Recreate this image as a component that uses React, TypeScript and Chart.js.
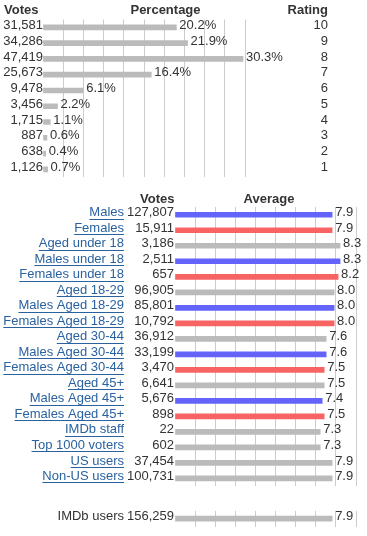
import React, { useEffect, useRef } from 'react';
import { Chart, registerables } from 'chart.js';

Chart.register(...registerables);

// ---------- data ----------
const ratingLabels = ['10', '9', '8', '7', '6', '5', '4', '3', '2', '1'];
const ratingVotes = [31581, 34286, 47419, 25673, 9478, 3456, 1715, 887, 638, 1126];
const ratingPercent = [20.2, 21.9, 30.3, 16.4, 6.1, 2.2, 1.1, 0.6, 0.4, 0.7];
const topHeaders = ['Votes', 'Percentage', 'Rating'];

const groupLabels = [
  'Males',
  'Females',
  'Aged under 18',
  'Males under 18',
  'Females under 18',
  'Aged 18-29',
  'Males Aged 18-29',
  'Females Aged 18-29',
  'Aged 30-44',
  'Males Aged 30-44',
  'Females Aged 30-44',
  'Aged 45+',
  'Males Aged 45+',
  'Females Aged 45+',
  'IMDb staff',
  'Top 1000 voters',
  'US users',
  'Non-US users',
];
const groupVotes = [127807, 15911, 3186, 2511, 657, 96905, 85801, 10792, 36912, 33199, 3470, 6641, 5676, 898, 22, 602, 37454, 100731];
const groupAverage = [7.9, 7.9, 8.3, 8.3, 8.2, 8.0, 8.0, 8.0, 7.6, 7.6, 7.5, 7.5, 7.4, 7.5, 7.3, 7.3, 7.9, 7.9];
const groupKind = ['male', 'female', 'all', 'male', 'female', 'all', 'male', 'female', 'all', 'male', 'female', 'all', 'male', 'female', 'all', 'all', 'all', 'all'];
const bottomHeaders = ['Votes', 'Average'];

const overallLabels = ['IMDb users'];
const overallVotes = [156259];
const overallAverage = [7.9];

// ---------- style ----------
const FONT = '"Liberation Sans", Arial, Helvetica, sans-serif';
const TEXT = '#333333';
const LINK = '#2a62a0';
const GRID = '#cccccc';
const KIND_COLOR: Record<string, string> = { male: '#6464fa', female: '#f86464', all: '#bbbbbb' };

const fmt = (n: number) => n.toLocaleString('en-US');

Chart.defaults.font.family = FONT;
Chart.defaults.font.size = 13;
Chart.defaults.color = TEXT;

function valueLabelPlugin(format: (v: number) => string) {
  return {
    id: 'valueLabels',
    afterDatasetsDraw(chart: any) {
      const ctx = chart.ctx;
      const meta = chart.getDatasetMeta(0);
      const data = chart.data.datasets[0].data as number[];
      ctx.save();
      ctx.font = `13px ${FONT}`;
      ctx.fillStyle = TEXT;
      ctx.textAlign = 'left';
      ctx.textBaseline = 'middle';
      meta.data.forEach((el: any, i: number) => {
        ctx.fillText(format(data[i]), el.x + 3, el.y - 2);
      });
      ctx.restore();
    },
  };
}

function headerPlugin(items: { text: string; x: number; y: number; align: CanvasTextAlign }[]) {
  return {
    id: 'headers',
    afterDraw(chart: any) {
      const ctx = chart.ctx;
      ctx.save();
      ctx.font = `bold 13px ${FONT}`;
      ctx.fillStyle = TEXT;
      ctx.textBaseline = 'alphabetic';
      items.forEach((it) => {
        ctx.textAlign = it.align;
        ctx.fillText(it.text, it.x, it.y);
      });
      ctx.restore();
    },
  };
}

function underlinePlugin(scaleId: string, color: string) {
  return {
    id: 'underline',
    afterDraw(chart: any) {
      const s = chart.scales[scaleId];
      if (!s) return;
      const ctx = chart.ctx;
      const labels = s.getLabels();
      ctx.save();
      ctx.font = `13px ${FONT}`;
      ctx.fillStyle = color;
      labels.forEach((lab: string, i: number) => {
        const w = ctx.measureText(lab).width;
        const y = Math.round(s.getPixelForValue(i) - 2 + 6);
        ctx.fillRect(s.right - w, y, w, 1);
      });
      ctx.restore();
    },
  };
}

function xScale(max: number, parts: number) {
  return {
    type: 'linear',
    position: 'bottom',
    min: 0,
    max,
    afterBuildTicks: (s: any) => {
      s.ticks = Array.from({ length: parts + 1 }, (_, i) => ({ value: (i * max) / parts }));
    },
    afterFit: (s: any) => {
      s.height = 0;
    },
    grid: {
      color: (c: any) => (c.index === 0 ? 'rgba(0,0,0,0)' : GRID),
      drawTicks: false,
      lineWidth: 1,
    },
    border: { display: false },
    ticks: { display: false },
  };
}

function catScale(labels: string[], position: string, width: number, extra: any = {}) {
  return {
    type: 'category',
    position,
    labels,
    offset: true,
    grid: { display: false, drawTicks: false },
    border: { display: false },
    afterFit: (s: any) => {
      s.width = width;
    },
    ...extra,
    ticks: {
      padding: 0,
      labelOffset: -2,
      autoSkip: false,
      color: TEXT,
      font: { family: FONT, size: 13 },
      ...(extra.ticks || {}),
    },
  };
}

const baseOptions = {
  animation: false,
  responsive: false,
  maintainAspectRatio: false,
  indexAxis: 'y',
  events: [],
  plugins: { legend: { display: false }, tooltip: { enabled: false }, title: { display: false } },
};

export default function App() {
  const topRef = useRef<HTMLCanvasElement>(null);
  const midRef = useRef<HTMLCanvasElement>(null);
  const botRef = useRef<HTMLCanvasElement>(null);

  useEffect(() => {
    const charts: Chart[] = [];

    // ---- rating distribution ----
    charts.push(
      new Chart(topRef.current as HTMLCanvasElement, {
        type: 'bar',
        data: {
          labels: ratingLabels,
          datasets: [{ data: ratingPercent, backgroundColor: '#bbbbbb', barThickness: 5, yAxisID: 'y', xAxisID: 'x' }],
        },
        options: {
          ...baseOptions,
          layout: { padding: { left: 0, right: 39, top: 19.5, bottom: 5.5 } },
          scales: {
            x: xScale(30.6, 10),
            y: catScale(ratingVotes.map(fmt), 'left', 43),
            y2: catScale(ratingLabels, 'right', 83, { ticks: { crossAlign: 'far' } }),
          },
        } as any,
        plugins: [
          valueLabelPlugin((v) => `${v.toFixed(1)}%`),
          headerPlugin([
            { text: topHeaders[0], x: 4, y: 14, align: 'left' },
            { text: topHeaders[1], x: 165.5, y: 14, align: 'center' },
            { text: topHeaders[2], x: 328, y: 14, align: 'right' },
          ]),
        ],
      } as any)
    );

    // ---- demographic averages ----
    charts.push(
      new Chart(midRef.current as HTMLCanvasElement, {
        type: 'bar',
        data: {
          labels: groupLabels,
          datasets: [
            {
              data: groupAverage,
              backgroundColor: groupKind.map((k) => KIND_COLOR[k]),
              barThickness: 5,
              yAxisID: 'y',
              xAxisID: 'x',
            },
          ],
        },
        options: {
          ...baseOptions,
          layout: { padding: { left: 0, right: 11, top: 22, bottom: 0 } },
          scales: {
            x: xScale(9.1, 9),
            yn: catScale(groupLabels, 'left', 124, { weight: 2, ticks: { color: LINK } }),
            y: catScale(groupVotes.map(fmt), 'left', 51, { weight: 1, ticks: { padding: 1 } }),
          },
        } as any,
        plugins: [
          valueLabelPlugin((v) => v.toFixed(1)),
          underlinePlugin('yn', LINK),
          headerPlugin([
            { text: bottomHeaders[0], x: 174.5, y: 17.5, align: 'right' },
            { text: bottomHeaders[1], x: 269, y: 17.5, align: 'center' },
          ]),
        ],
      } as any)
    );

    // ---- overall ----
    charts.push(
      new Chart(botRef.current as HTMLCanvasElement, {
        type: 'bar',
        data: {
          labels: overallLabels,
          datasets: [{ data: overallAverage, backgroundColor: '#bbbbbb', barThickness: 5, yAxisID: 'y', xAxisID: 'x' }],
        },
        options: {
          ...baseOptions,
          layout: { padding: { left: 0, right: 11, top: 8.5, bottom: 9.5 } },
          scales: {
            x: xScale(9.1, 9),
            yn: catScale(overallLabels, 'left', 124, { weight: 2 }),
            y: catScale(overallVotes.map(fmt), 'left', 51, { weight: 1, ticks: { padding: 1 } }),
          },
        } as any,
        plugins: [valueLabelPlugin((v) => v.toFixed(1))],
      } as any)
    );

    return () => {
      charts.forEach((c) => c.destroy());
    };
  }, []);

  return (
    <div style={{ position: 'absolute', left: 0, top: 0, width: 367, height: 536, background: '#ffffff', overflow: 'hidden' }}>
      <canvas ref={topRef} width={367} height={185} style={{ position: 'absolute', left: 0, top: 0 }} />
      <canvas ref={midRef} width={367} height={310} style={{ position: 'absolute', left: 0, top: 185 }} />
      <canvas ref={botRef} width={367} height={34} style={{ position: 'absolute', left: 0, top: 502 }} />
    </div>
  );
}
